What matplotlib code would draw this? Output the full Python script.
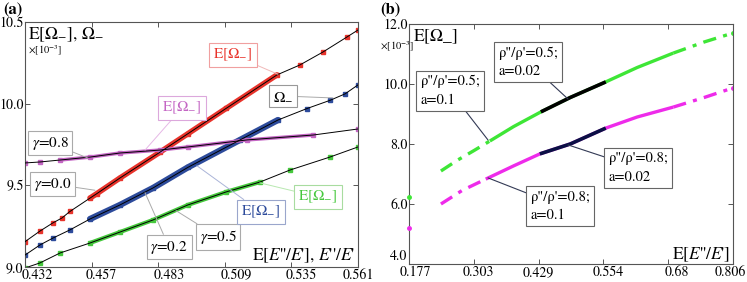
import numpy as np
import matplotlib
matplotlib.use("Agg")
import matplotlib.pyplot as plt
from matplotlib.transforms import ScaledTranslation

plt.rcParams['font.family'] = ['STIXGeneral', 'Liberation Serif', 'DejaVu Serif']
plt.rcParams['mathtext.fontset'] = 'stix'

# ---- panel (a) data ----
xa_ticks = ["0.432", "0.457", "0.483", "0.509", "0.535", "0.561"]
ya_ticks = ["9.0", "9.5", "10.0", "10.5"]

red_x = [0.432, 0.4378, 0.4428, 0.4463, 0.4494, 0.4572, 0.4599, 0.4688, 0.4843,
         0.4951, 0.5100, 0.5296, 0.5385, 0.5474, 0.5567, 0.561]
red_y = [9.155, 9.22, 9.27, 9.30, 9.34, 9.422, 9.45, 9.545, 9.703,
         9.816, 9.972, 10.176, 10.237, 10.316, 10.408, 10.451]

blue_x = [0.432, 0.4378, 0.4428, 0.4494, 0.4572, 0.4688, 0.4816, 0.4951, 0.5153,
          0.5300, 0.5412, 0.5501, 0.5560, 0.561]
blue_y = [9.073, 9.135, 9.177, 9.227, 9.294, 9.380, 9.484, 9.61, 9.778,
          9.90, 9.97, 10.02, 10.06, 10.115]

purple_x = [0.432, 0.4378, 0.4456, 0.4572, 0.4688, 0.4843, 0.4951, 0.518, 0.5436, 0.561]
purple_y = [9.637, 9.643, 9.655, 9.673, 9.698, 9.716, 9.735, 9.778, 9.808, 9.845]

green_x = [0.432, 0.4378, 0.4456, 0.4572, 0.4688, 0.4816, 0.4951, 0.5100, 0.523,
           0.5347, 0.5501, 0.561]
green_y = [8.994, 9.025, 9.086, 9.147, 9.214, 9.288, 9.380, 9.46, 9.52,
           9.594, 9.673, 9.735]

# ---- panel (b) data ----
xb_ticks = ["0.177", "0.303", "0.429", "0.554", "0.68", "0.806"]
yb_ticks = ["4.0", "6.0", "8.0", "10.0", "12.0"]

g05_x = [0.239, 0.27, 0.303, 0.334, 0.38, 0.433, 0.49, 0.559, 0.62, 0.690, 0.75, 0.806]
g05_y = [7.10, 7.45, 7.78, 8.10, 8.58, 9.07, 9.55, 10.07, 10.55, 11.03, 11.40, 11.70]

m08_x = [0.239, 0.28, 0.326, 0.38, 0.431, 0.49, 0.559, 0.62, 0.690, 0.75, 0.806]
m08_y = [6.00, 6.45, 6.83, 7.27, 7.67, 8.00, 8.53, 8.90, 9.23, 9.55, 9.87]

first_x = [0.177, 0.177]
first_y = [6.23, 5.20]

c_red, c_blue, c_purple, c_green = '#e8332b', '#2d4b9b', '#c466c4', '#45c83c'
c_lime, c_mag, c_navy = '#3ee636', '#ee2bea', '#0b1045'

fig = plt.figure(figsize=(7.47, 2.82), dpi=100)
ax1 = fig.add_axes([25 / 747, 1 - 267 / 282, 333 / 747, 245 / 282])
ax2 = fig.add_axes([409 / 747, 1 - 264 / 282, 324 / 747, 240 / 282])

for ax in (ax1, ax2):
    for s in ax.spines.values():
        s.set_color('#555555')
        s.set_linewidth(0.8)
    ax.tick_params(direction='in', length=3.5, width=0.7, color='#555555',
                   top=True, right=True, labelsize=10)
    ax.tick_params(axis='x', pad=1.5)
    ax.tick_params(axis='y', pad=1)


def nudge(label, dx_px, dy_px=0):
    label.set_transform(label.get_transform() +
                        ScaledTranslation(dx_px / 100, dy_px / 100, fig.dpi_scale_trans))


# panel (a)
series = [(red_x, red_y, c_red, 4.0, (0.457, 0.538)),
          (blue_x, blue_y, c_blue, 4.5, (0.457, 0.541)),
          (purple_x, purple_y, c_purple, 2.5, (0.445, 0.55)),
          (green_x, green_y, c_green, 3.0, (0.457, 0.524))]
for xs, ys, col, lw, rng in series:
    xs = np.array(xs)
    ys = np.array(ys)
    m = (xs >= rng[0]) & (xs <= rng[1])
    ax1.plot(xs[m], ys[m], color=col, lw=lw, solid_capstyle='round', zorder=2)
    ax1.plot(xs, ys, 's', color=col, ms=2.4, zorder=2)
    ax1.plot(xs, ys, color='black', lw=0.7, zorder=3)

ax1.set_xlim(0.432, 0.561)
ax1.set_ylim(9.0, 10.5)
ax1.set_xticks(np.linspace(0.432, 0.561, 6))
ax1.set_xticklabels(xa_ticks)
ax1.set_yticks([9.0, 9.5, 10.0, 10.5])
ax1.set_yticklabels(ya_ticks)
for lab, dx in zip(ax1.get_xticklabels(), [12, 10, 11, 12, 10, 0]):
    nudge(lab, dx)

ax1.text(0.01, 0.985, r'E[$\Omega_{-}$], $\Omega_{-}$', transform=ax1.transAxes,
         ha='left', va='top', fontsize=12.5)
ax1.text(0.01, 0.88, r'$\times$[10$^{-3}$]', transform=ax1.transAxes,
         ha='left', va='center', fontsize=7.5)
ax1.text(0.99, 0.045, r"E[$E$''/$E$'], $E$''/$E$'", transform=ax1.transAxes,
         ha='right', va='center', fontsize=12.5)

labels_a = [
    (r'E[$\Omega_{-}$]', (0.530, 10.18), (0.5126, 10.298), c_red, '#f0a0a0', '#f0b8b8'),
    (r'$\Omega_{-}$', (0.5513, 10.035), (0.532, 10.047), 'black', '#999999', '#aaaaaa'),
    (r'E[$\Omega_{-}$]', (0.4785, 9.716), (0.4928, 9.973), c_purple, '#dca8dc', '#e6b8e6'),
    (r'$\gamma$=0.8', (0.4564, 9.667), (0.4417, 9.759), 'black', '#aaaaaa', '#aaaaaa'),
    (r'$\gamma$=0.0', (0.4591, 9.47), (0.4428, 9.508), 'black', '#aaaaaa', '#aaaaaa'),
    (r'$\gamma$=0.2', (0.4785, 9.455), (0.4878, 9.122), 'black', '#aaaaaa', '#aaaaaa'),
    (r'$\gamma$=0.5', (0.4905, 9.345), (0.5068, 9.184), 'black', '#aaaaaa', '#aaaaaa'),
    (r'E[$\Omega_{-}$]', (0.4986, 9.62), (0.5234, 9.337), c_blue, '#9aa6cc', '#aab4d8'),
    (r'E[$\Omega_{-}$]', (0.523, 9.515), (0.5455, 9.429), c_green, '#a8dca0', '#b8e8b0'),
]
for txt, xy, xyt, tc, ec, lc in labels_a:
    ax1.annotate(txt, xy=xy, xytext=xyt, ha='center', va='center', fontsize=11,
                 color=tc, zorder=5,
                 bbox=dict(boxstyle='square,pad=0.25', fc='white', ec=ec, lw=0.8),
                 arrowprops=dict(arrowstyle='-', color=lc, lw=0.7, shrinkA=0, shrinkB=0))

# panel (b)
def draw_curve(ax, xs, ys, col, mid_col, lo=0.33, hi=0.69, mlo=0.429, mhi=0.56):
    xs = np.array(xs)
    ys = np.array(ys)
    left = xs <= lo + 0.005
    mid = (xs >= lo - 0.005) & (xs <= hi + 0.005)
    right = xs >= hi - 0.005
    core = (xs >= mlo) & (xs <= mhi)
    dd = (0, (4, 2.2, 1.2, 2.2))
    ax.plot(xs[left], ys[left], color=col, lw=2.4, ls=dd)
    ax.plot(xs[mid], ys[mid], color=col, lw=2.4, solid_capstyle='butt')
    ax.plot(xs[right], ys[right], color=col, lw=2.4, ls=dd)
    ax.plot(xs[core], ys[core], color=mid_col, lw=2.6, solid_capstyle='butt', zorder=3)
    ax.plot(xs[-1:], ys[-1:], 'o', color=col, ms=2.5)

draw_curve(ax2, g05_x, g05_y, c_lime, 'black')
draw_curve(ax2, m08_x, m08_y, c_mag, c_navy)
ax2.plot(first_x[:1], first_y[:1], 'o', color=c_lime, ms=2.5, clip_on=False, zorder=4)
ax2.plot(first_x[1:], first_y[1:], 'o', color=c_mag, ms=2.5, clip_on=False, zorder=4)

ax2.set_xlim(0.177, 0.806)
ax2.set_ylim(4.0, 12.0)
ax2.set_xticks(np.linspace(0.177, 0.806, 6))
ax2.set_xticklabels(xb_ticks)
ax2.set_yticks([4.0, 6.0, 8.0, 10.0, 12.0])
ax2.set_yticklabels(yb_ticks)
# the lowest y label sits a bit above its tick in the original
nudge(ax2.get_yticklabels()[0], 0, 9)
for lab, dx in zip(ax2.get_xticklabels(), [6, 5, 0, 5, 9, -3]):
    nudge(lab, dx)

ax2.text(0.012, 0.985, r'E[$\Omega$_]', transform=ax2.transAxes,
         ha='left', va='top', fontsize=12.5)
ax2.text(-0.088, 0.905, r'$\times$[10$^{-3}$]', transform=ax2.transAxes,
         ha='left', va='center', fontsize=7.5)
ax2.text(0.99, 0.04, r"E[$E$''/$E$']", transform=ax2.transAxes,
         ha='right', va='center', fontsize=12.5)

labels_b = [
    ('ρ"/ρ\'=0.5;\na=0.1', (0.3304, 8.133), (0.2566, 9.767)),
    ('ρ"/ρ\'=0.5;\na=0.02', (0.4857, 9.5), (0.408, 10.73)),
    ('ρ"/ρ\'=0.8;\na=0.02', (0.4857, 7.97), (0.6216, 7.2)),
    ('ρ"/ρ\'=0.8;\na=0.1', (0.3304, 6.87), (0.4702, 5.93)),
]
for txt, xy, xyt in labels_b:
    ax2.annotate(txt, xy=xy, xytext=xyt, ha='center', va='center', fontsize=10.5,
                 multialignment='left', linespacing=1.5, zorder=5,
                 bbox=dict(boxstyle='square,pad=0.25', fc='white', ec='#666666', lw=0.8),
                 arrowprops=dict(arrowstyle='-', color='#333a55', lw=0.8, shrinkA=0, shrinkB=0))

fig.text(3 / 747, 1 - 10 / 282, '(a)', fontsize=12, fontweight='bold', va='center', ha='left')
fig.text(380 / 747, 1 - 10 / 282, '(b)', fontsize=12, fontweight='bold', va='center', ha='left')

fig.savefig('out.png', dpi=100)
